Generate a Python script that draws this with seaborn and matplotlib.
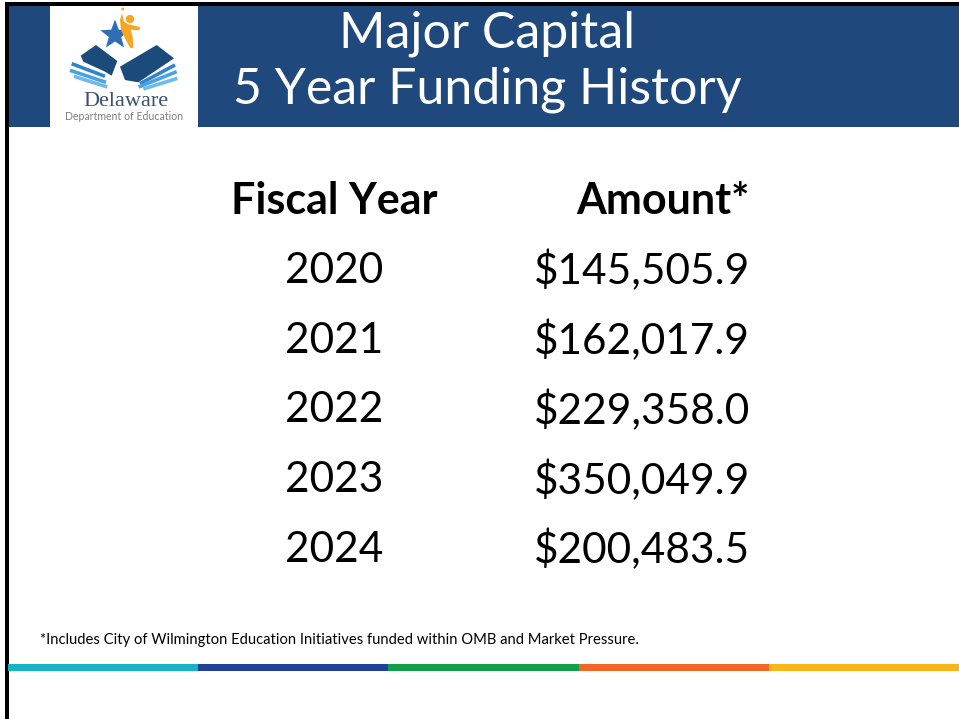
import numpy as np
import pandas as pd
import matplotlib
matplotlib.use('Agg')
import matplotlib.pyplot as plt
from matplotlib.patches import Rectangle, Polygon, Circle
import seaborn as sns

# data
title_lines = ['Major Capital', '5 Year Funding History']
col_headers = ['Fiscal Year', 'Amount*']
fiscal_years = ['2020', '2021', '2022', '2023', '2024']
amounts = ['$145,505.9', '$162,017.9', '$229,358.0', '$350,049.9', '$200,483.5']
footnote = '*Includes City of Wilmington Education Initiatives funded within OMB and Market Pressure.'
stripe_colors = ['#17b5c4', '#21409a', '#0fa14a', '#f26522', '#fbb519']

sns.set_theme(style='white')
plt.rcParams['font.family'] = ['Lato', 'DejaVu Sans']

W, H = 959, 719
fig = plt.figure(figsize=(W / 100, H / 100), dpi=100)
ax = fig.add_axes([0, 0, 1, 1])
ax.set_xlim(0, W)
ax.set_ylim(H, 0)
ax.axis('off')

# slide frame
ax.add_patch(Rectangle((5, 2), 4, H, color='black', lw=0))
ax.add_patch(Rectangle((5, 2), W, 4, color='black', lw=0))

# header band
blue = '#1f497d'
ax.add_patch(Rectangle((9, 6), W, 121, color=blue, lw=0))
ax.add_patch(Rectangle((50, 6), 148, 121, color='white', lw=0))

# logo, shapes sketched on a 3x grid anchored at (60, 5)
def lp(pts):
    return [(60 + x / 3, 5 + y / 3) for x, y in pts]

def star(cx, cy, r_out, r_in, n=5):
    pts = []
    for k in range(2 * n):
        r = r_out if k % 2 == 0 else r_in
        a = -np.pi / 2 + k * np.pi / n
        pts.append((cx + r * np.cos(a), cy + r * np.sin(a)))
    return pts

orange = '#f5a623'
ax.add_patch(Polygon(star(115, 35, 15.5, 6.5), closed=True, color='#2f6db5', lw=0))
ax.add_patch(Polygon(lp([(186, 25), (192, 50), (205, 58), (240, 66), (238, 76), (212, 74),
                         (218, 95), (220, 130), (210, 128), (195, 100), (183, 75), (180, 45)]),
                     closed=True, color=orange, lw=0))
ax.add_patch(Circle((130, 19), 4.2, color=orange, lw=0))
ax.add_patch(Circle((122.7, 9), 1.4, color=orange, lw=0))

dark = '#1b4b7b'
ax.add_patch(Polygon(lp([(62, 152), (108, 120), (172, 168), (155, 212), (135, 200), (70, 170)]),
                     closed=True, color=dark, lw=0))
ax.add_patch(Polygon(lp([(180, 185), (290, 120), (342, 160), (235, 232), (195, 225)]),
                     closed=True, color=dark, lw=0))
stripes_left = [[(35, 176), (135, 214)], [(30, 196), (138, 232)], [(42, 214), (142, 246)]]
stripes_right = [[(240, 236), (345, 180)], [(236, 246), (350, 200)], [(250, 252), (352, 220)]]
for k, (sl, sr) in enumerate(zip(stripes_left, stripes_right)):
    c = ['#2f86cc', '#4aa3e0', '#6dbbea'][k]
    xs, ys = zip(*lp(sl))
    ax.plot(xs, ys, color=c, lw=2.6, solid_capstyle='butt')
    xs, ys = zip(*lp(sr))
    ax.plot(xs, ys, color=c, lw=2.6, solid_capstyle='butt')
ax.text(126, 102, 'Delaware', ha='center', va='center', fontsize=16,
        family=['Liberation Serif'], color='#3b5272')
ax.text(124, 117, 'Department of Education', ha='center', va='center', fontsize=7.6,
        color='#808080')

# title
for i, line in enumerate(title_lines):
    ax.text(487, 34 + i * 56, line, ha='center', va='center', fontsize=36,
            color='white', fontweight='normal')

# table
x_year, x_amt = 334, 750
y0, dy = 201, 69.8
ax.text(x_year, y0, col_headers[0], ha='center', va='center', fontsize=31,
        fontweight='bold', color='black')
ax.text(x_amt, y0, col_headers[1], ha='right', va='center', fontsize=31,
        fontweight='bold', color='black')
table = pd.DataFrame({'year': fiscal_years, 'amount': amounts})
for i, row in table.iterrows():
    y = y0 + (i + 1) * dy
    ax.text(x_year, y, row['year'], ha='center', va='center', fontsize=30.5, color='black')
    ax.text(x_amt, y, row['amount'], ha='right', va='center', fontsize=30.5, color='black')

# footnote
ax.text(40, 640, footnote, ha='left', va='center', fontsize=10.6, color='black')

# bottom colour stripe
seg = (W - 8) / len(stripe_colors)
stripe = pd.DataFrame({'left': 8 + seg * np.arange(len(stripe_colors)), 'color': stripe_colors})
ax.barh([667] * len(stripe), [seg + 0.5] * len(stripe), left=stripe['left'], height=7,
        color=stripe['color'], lw=0)

fig.savefig('out.png', dpi=100)
